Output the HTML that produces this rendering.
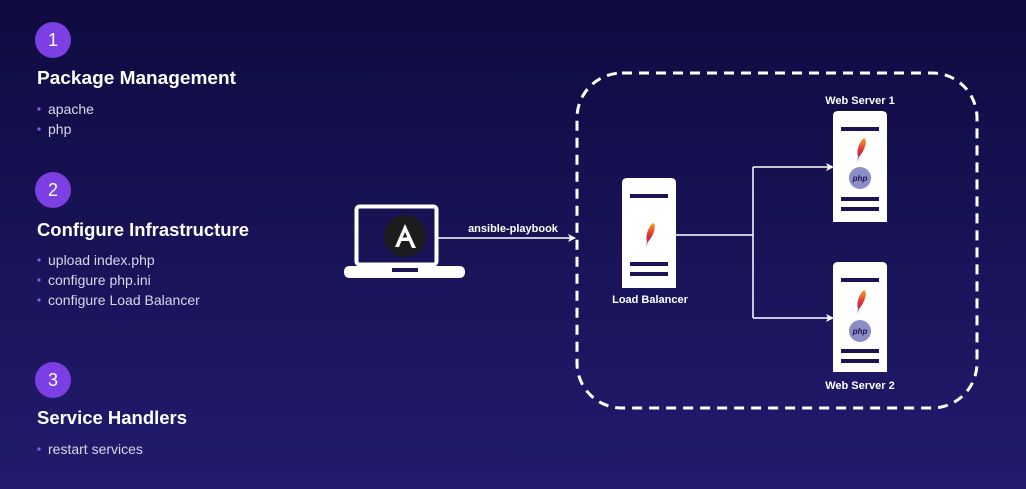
<!DOCTYPE html>
<html><head><meta charset="utf-8"><style>
html,body{margin:0;padding:0;width:1026px;height:489px;overflow:hidden}
svg{display:block}
text{font-family:"Liberation Sans",sans-serif}
</style></head><body>
<svg width="1026" height="489" viewBox="0 0 1026 489" xmlns="http://www.w3.org/2000/svg">
<defs>
<linearGradient id="bg" x1="0" y1="0" x2="0" y2="1">
<stop offset="0" stop-color="#0f0b40"/><stop offset="1" stop-color="#221b6e"/>
</linearGradient>
<linearGradient id="fe" x1="0" y1="0" x2="0" y2="1">
<stop offset="0" stop-color="#f7a11b"/><stop offset="0.5" stop-color="#e0303a"/><stop offset="1" stop-color="#8e2a6e"/>
</linearGradient>
<g id="feather"><path d="M4,-12 C8,-10 5,0 -1,7 L-3,12 L-2,7 C-4,0 0,-9 4,-12Z" fill="url(#fe)"/></g>
<g id="php"><circle r="11" fill="#8a8dc6"/><text y="3" text-anchor="middle" font-size="8" font-style="italic" font-weight="bold" fill="#1a1650">php</text></g>
</defs>
<rect width="1026" height="489" fill="url(#bg)"/>

<g fill="#7b3fe4">
<circle cx="53" cy="40" r="18"/><circle cx="53" cy="190" r="18"/><circle cx="53" cy="380" r="18"/>
</g>
<g fill="#fff" font-size="18" text-anchor="middle">
<text x="53" y="46">1</text><text x="53" y="196">2</text><text x="53" y="386">3</text>
</g>
<g fill="#fff" font-size="18.5" font-weight="bold">
<text x="37" y="84" textLength="199" lengthAdjust="spacingAndGlyphs">Package Management</text>
<text x="37" y="236" textLength="212" lengthAdjust="spacingAndGlyphs">Configure Infrastructure</text>
<text x="37" y="424" textLength="150" lengthAdjust="spacingAndGlyphs">Service Handlers</text>
</g>
<g fill="#8a5cf0">
<circle cx="39" cy="109" r="1.6"/><circle cx="39" cy="129" r="1.6"/>
<circle cx="39" cy="260" r="1.6"/><circle cx="39" cy="280" r="1.6"/><circle cx="39" cy="300" r="1.6"/>
<circle cx="39" cy="449" r="1.6"/>
</g>
<g fill="#d9d7ea" font-size="14">
<text x="48" y="114">apache</text><text x="48" y="134">php</text>
<text x="48" y="265">upload index.php</text><text x="48" y="285">configure php.ini</text><text x="48" y="305">configure Load Balancer</text>
<text x="48" y="454">restart services</text>
</g>

<!-- laptop -->
<rect x="356.5" y="206.5" width="80" height="58" rx="3" fill="none" stroke="#fff" stroke-width="4"/>
<path d="M350,266 H459 Q465,266 465,272 Q465,278 459,278 H350 Q344,278 344,272 Q344,266 350,266Z" fill="#fff"/>
<rect x="392" y="268" width="26" height="4" fill="#1a1455"/>
<circle cx="405" cy="236" r="21" fill="#1c1c1e"/>
<path d="M405,224 L395,247 L399,247 L405,232 L412,248 L416,248 Z M401,241 L410,241 L408,237 L402,238Z" fill="#fff"/>

<line x1="437" y1="238" x2="570" y2="238" stroke="#fff" stroke-width="1.5"/>
<path d="M576,238 L568,234 L570,238 L568,242Z" fill="#fff"/>
<text x="513" y="232" text-anchor="middle" font-size="11" font-weight="bold" fill="#fff">ansible-playbook</text>

<rect x="577" y="73" width="400" height="335" rx="45" fill="none" stroke="#fff" stroke-width="3" stroke-dasharray="10 7"/>

<!-- LB -->
<path d="M622,288 V183 Q622,178 627,178 H671 Q676,178 676,183 V288Z" fill="#fff"/>
<g fill="#1a1455"><rect x="630" y="194" width="38" height="4"/><rect x="630" y="262" width="38" height="4"/><rect x="630" y="272" width="38" height="4"/></g>
<use href="#feather" x="649" y="235"/>
<text x="650" y="303" text-anchor="middle" font-size="11" font-weight="bold" fill="#fff">Load Balancer</text>

<g stroke="#fff" stroke-width="1.5" fill="none">
<path d="M676,235 H753 M753,167 V318 M753,167 H828 M753,318 H828"/>
</g>
<path d="M834,167 L826,163 L828,167 L826,171Z M834,318 L826,314 L828,318 L826,322Z" fill="#fff"/>

<!-- WS1 -->
<path d="M833,222 V116 Q833,111 838,111 H882 Q887,111 887,116 V222Z" fill="#fff"/>
<g fill="#1a1455"><rect x="841" y="127" width="38" height="4"/><rect x="841" y="197" width="38" height="4"/><rect x="841" y="207" width="38" height="4"/></g>
<use href="#feather" x="860" y="150"/>
<use href="#php" x="860" y="178"/>
<text x="860" y="104" text-anchor="middle" font-size="11" font-weight="bold" fill="#fff">Web Server 1</text>

<!-- WS2 -->
<path d="M833,372 V267 Q833,262 838,262 H882 Q887,262 887,267 V372Z" fill="#fff"/>
<g fill="#1a1455"><rect x="841" y="278" width="38" height="4"/><rect x="841" y="349" width="38" height="4"/><rect x="841" y="359" width="38" height="4"/></g>
<use href="#feather" x="860" y="302"/>
<use href="#php" x="860" y="331"/>
<text x="860" y="389" text-anchor="middle" font-size="11" font-weight="bold" fill="#fff">Web Server 2</text>
</svg>
</body></html>
